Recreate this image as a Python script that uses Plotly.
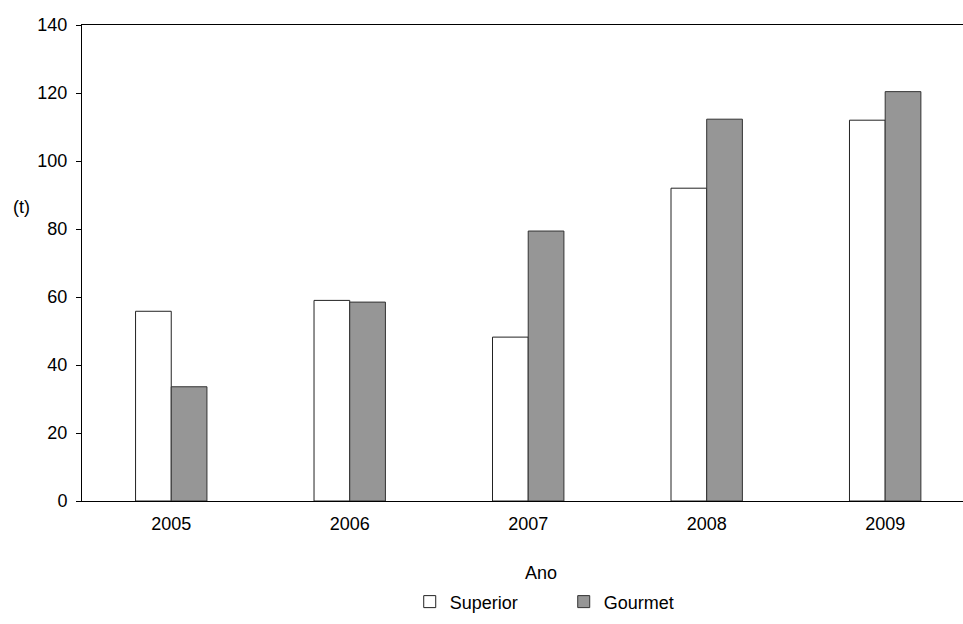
import plotly.graph_objects as go

years = ["2005", "2006", "2007", "2008", "2009"]
superior = [55.8, 59.0, 48.2, 92.0, 112.0]
gourmet = [33.6, 58.5, 79.4, 112.3, 120.4]
y_ticks = [0, 20, 40, 60, 80, 100, 120, 140]

FONT = "Liberation Sans, Arial, sans-serif"

fig = go.Figure()
fig.add_trace(go.Bar(x=years, y=superior, name="Superior",
                     marker=dict(color="#ffffff", line=dict(color="#222222", width=1))))
fig.add_trace(go.Bar(x=years, y=gourmet, name="Gourmet",
                     marker=dict(color="#969696", line=dict(color="#333333", width=1))))

fig.update_layout(
    width=963, height=624,
    margin=dict(l=82, r=0, t=25, b=123),
    paper_bgcolor="white", plot_bgcolor="white",
    font=dict(family=FONT, size=18, color="#000000"),
    barmode="group", bargap=0.6, bargroupgap=0,
    showlegend=True,
    legend=dict(orientation="h", x=0.372, xanchor="left", y=-0.212, yanchor="middle",
                font=dict(size=18), itemwidth=30, entrywidth=109, traceorder="normal"),
    xaxis=dict(type="category", range=[-0.5, 4.436], showline=True, linecolor="#000000",
               linewidth=1, mirror=True, ticks="", showgrid=False, zeroline=False,
               ticklabelstandoff=6, tickfont=dict(size=18)),
    yaxis=dict(range=[0, 140], tickvals=y_ticks, showline=True, linecolor="#000000",
               linewidth=1, ticks="outside", ticklen=5, tickcolor="#000000",
               ticklabelstandoff=5, tickfont=dict(size=18),
               showgrid=False, zeroline=False),
    annotations=[
        dict(text="(t)", xref="paper", yref="paper", x=-0.081, y=0.617,
             xanchor="left", yanchor="middle", showarrow=False, font=dict(size=18)),
        dict(text="Ano", xref="paper", yref="paper", x=0.521, y=-0.151,
             xanchor="center", yanchor="middle", showarrow=False, font=dict(size=18)),
    ],
)

fig.write_html("out.html", config={"displayModeBar": False},
               post_script="document.body.style.margin='0';document.body.style.overflow='hidden';")
